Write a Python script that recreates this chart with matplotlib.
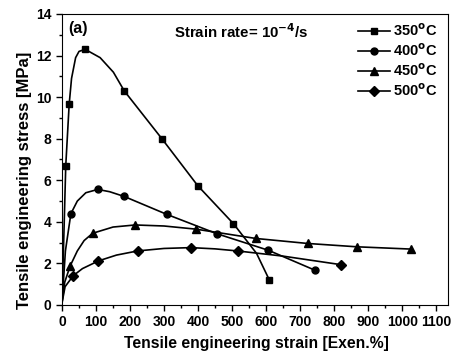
import numpy as np
import matplotlib.pyplot as plt
from matplotlib.ticker import MultipleLocator

plt.rcParams['font.family'] = ['Liberation Sans', 'DejaVu Sans']
plt.rcParams['font.weight'] = 'bold'
plt.rcParams['mathtext.default'] = 'bf'

# curve points; markers shown at the listed indices
strain_350 = [0, 11, 21, 28, 40, 50, 68, 112, 151, 183, 295, 399, 504, 572, 609]
stress_350 = [0.1, 6.7, 9.65, 10.9, 11.9, 12.2, 12.3, 11.9, 11.2, 10.3, 7.97, 5.74, 3.91, 2.48, 1.22]
marks_350 = [1, 2, 6, 9, 10, 11, 12, 14]

strain_400 = [0, 10, 26, 45, 70, 105, 140, 183, 308, 455, 607, 744]
stress_400 = [0.1, 2.6, 4.39, 5.0, 5.4, 5.56, 5.45, 5.22, 4.36, 3.43, 2.63, 1.67]
marks_400 = [2, 5, 7, 8, 9, 10, 11]

strain_450 = [0, 8, 24, 45, 65, 90, 150, 215, 300, 393, 570, 722, 866, 1025]
stress_450 = [0.1, 1.1, 1.88, 2.6, 3.1, 3.45, 3.75, 3.85, 3.8, 3.65, 3.2, 2.96, 2.8, 2.69]
marks_450 = [2, 5, 7, 9, 10, 11, 12, 13]

strain_500 = [0, 9, 33, 60, 107, 160, 222, 300, 379, 450, 516, 650, 820]
stress_500 = [0.1, 0.88, 1.41, 1.75, 2.12, 2.4, 2.6, 2.72, 2.76, 2.7, 2.6, 2.35, 1.94]
marks_500 = [2, 4, 6, 8, 10, 12]

labels = [r'350$^{\rm o}$C', r'400$^{\rm o}$C', r'450$^{\rm o}$C', r'500$^{\rm o}$C']

fig = plt.figure(figsize=(4.54, 3.56), dpi=100)
ax = fig.add_axes([0.1366, 0.1433, 0.8504, 0.8174])

ax.plot(strain_350, stress_350, color='black', lw=1.2, marker='s', ms=5, markevery=marks_350, label=labels[0])
ax.plot(strain_400, stress_400, color='black', lw=1.2, marker='o', ms=5, markevery=marks_400, label=labels[1])
ax.plot(strain_450, stress_450, color='black', lw=1.2, marker='^', ms=5.5, markevery=marks_450, label=labels[2])
ax.plot(strain_500, stress_500, color='black', lw=1.2, marker='D', ms=5, markevery=marks_500, label=labels[3])

ax.set_xlim(0, 1135)
ax.set_ylim(0, 14)
ax.xaxis.set_major_locator(MultipleLocator(100))
ax.xaxis.set_minor_locator(MultipleLocator(50))
ax.yaxis.set_major_locator(MultipleLocator(2))
ax.yaxis.set_minor_locator(MultipleLocator(1))
ax.tick_params(which='both', direction='out', top=False, right=False, labelsize=10)
ax.tick_params(which='major', length=4, width=1)
ax.tick_params(which='minor', length=2.5, width=1)

ax.set_xlabel('Tensile engineering strain [Exen.%]', fontsize=11.3, fontweight='bold')
ax.set_ylabel('Tensile engineering stress [MPa]', fontsize=12, fontweight='bold')
ax.xaxis.set_label_coords(0.504, -0.108)
ax.yaxis.set_label_coords(-0.078, 0.428)

ax.text(0.015, 0.975, '(a)', transform=ax.transAxes, fontsize=11.5, fontweight='bold', va='top')
ax.text(0.29, 0.972, r'Strain rate= 10$^{-4}$/s', transform=ax.transAxes, fontsize=10.8, fontweight='bold', va='top')

ax.legend(loc='upper right', bbox_to_anchor=(1.0, 1.01), frameon=False, fontsize=10.5,
          handlelength=2.2, labelspacing=0.25, handletextpad=0.2, borderaxespad=0.35)

plt.savefig('out.png', dpi=100)
